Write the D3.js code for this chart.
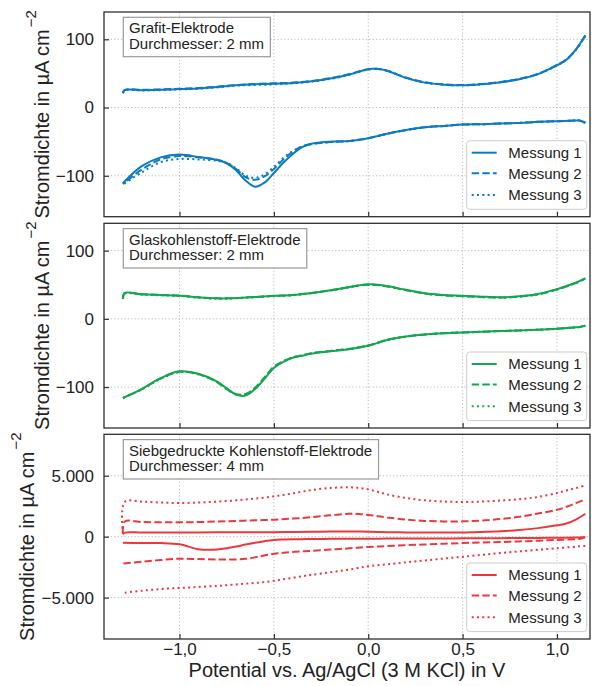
<!DOCTYPE html>
<html>
<head>
<meta charset="utf-8">
<script src="https://cdn.jsdelivr.net/npm/d3@7"></script>
<style>
  html, body { margin: 0; padding: 0; background: #fff; }
  svg { display: block; }
  text { font-family: "Liberation Sans", Arial, Helvetica, sans-serif; fill: #222; }
</style>
</head>
<body>
<svg id="chart" width="592" height="686"></svg>
<script>
// ---------------- DATA ----------------
// Potential grid (V vs. Ag/AgCl) for the anodic (forward) and cathodic (backward) scans
const upV = [-1.30, -1.29, -1.2, -1.1, -1.0, -0.9, -0.8, -0.7, -0.6, -0.5, -0.4, -0.3, -0.2, -0.1, -0.05,
  0.0, 0.05, 0.1, 0.2, 0.3, 0.4, 0.5, 0.6, 0.7, 0.8, 0.9, 1.0, 1.05, 1.1, 1.15];
const downV = [1.15, 1.12, 1.1, 1.0, 0.9, 0.8, 0.7, 0.6, 0.5, 0.4, 0.3, 0.2, 0.1, 0.0, -0.1, -0.2, -0.3,
  -0.35, -0.4, -0.45, -0.5, -0.55, -0.6, -0.65, -0.7, -0.75, -0.8, -0.9, -1.0, -1.1, -1.2, -1.3];

// Panel 1: Grafit-Elektrode (µA cm^-2)
const grafitUp1 = [21, 25.5, 25.5, 26, 27, 28, 30, 32.5, 34, 35, 36, 38.5, 42.5, 48.5, 52.5, 56, 57, 54, 43.5, 36.5,
  33.5, 32.5, 34, 37, 41.5, 49, 62, 70, 85, 106];
const grafitUp2 = [22, 26, 26, 26.5, 27.5, 28.5, 30.5, 33, 34.5, 35.5, 36.5, 39, 43, 49, 53, 56, 56.5, 54, 44, 37,
  34, 33, 34.5, 37.5, 42, 49.5, 62.5, 70.5, 85, 105];
const grafitUp3 = [21, 25, 25, 25.5, 26.5, 27.5, 29.5, 32, 33, 34, 35.5, 38, 42, 48, 52.5, 55.5, 56.5, 54, 43.5, 36.5,
  33.5, 32.5, 34, 37, 41.5, 49, 61.5, 70, 84, 105];
const grafitDown1 = [-23, -19, -19, -20, -21, -22.5, -23.5, -24.5, -25, -27, -29, -33, -38.5, -45, -49, -50, -53,
  -58, -68, -81, -96, -110, -116, -107, -92, -82, -77, -72.5, -69, -73, -86, -111];
const grafitDown2 = [-22, -19, -19, -20, -21, -22.5, -23.5, -24.5, -25, -27, -29, -33, -38.5, -45, -49, -50.5, -53.5,
  -57, -65, -76, -90, -101, -106, -102, -90, -81, -76.5, -73, -71, -76, -91, -112];
const grafitDown3 = [-22, -19, -19, -20, -21, -22.5, -23.5, -24.5, -25, -27, -29, -33, -38.5, -45, -49, -50.5, -53.5,
  -57, -64, -74, -87, -98, -103, -100, -89, -81, -78, -76, -75.5, -80, -95, -113];

// Panel 2: Glaskohlenstoff-Elektrode (µA cm^-2)
const glasUp1 = [29, 38, 36, 35, 34, 31.5, 30, 30.5, 32, 33.7, 35, 38, 42, 46.5, 49, 50.5, 50, 48, 42.5, 37.5,
  35, 33.7, 32.5, 31.7, 33, 36.5, 43.5, 48, 53, 59.5];
const glasUp2 = [30, 37.5, 36, 35, 34, 31.5, 30, 30.5, 32, 33.5, 35, 38, 42, 46.5, 49, 50, 49.5, 47.5, 42, 37,
  34.5, 33.2, 32, 31.2, 32.5, 36, 43, 47.5, 52.5, 59];
const glasUp3 = [29.5, 37, 35.5, 34.5, 33.5, 31, 29.5, 30, 31.5, 33.2, 34.5, 37.5, 41.5, 46, 48.5, 50, 49.5, 47.5, 42, 37,
  34.5, 33.2, 32, 31.2, 32.5, 36, 43, 47.5, 52.5, 59];
const glasDown1 = [-10, -12, -12.5, -14.5, -16, -17, -18, -19, -20, -21, -23, -26, -31, -39.5, -44.5, -47.5, -51,
  -54, -57, -63, -72, -88, -103, -112.5, -111, -102, -92, -80.5, -77, -87, -103, -116];
const glasDown2 = [-10, -12, -12.5, -14.5, -16, -17, -18, -19, -20, -21, -23, -26, -31, -39, -44, -47, -50.5,
  -53.5, -56.5, -62, -70, -86, -101, -110, -110.5, -103, -93, -81, -77.5, -87.5, -103, -116];
const glasDown3 = [-10, -12, -12.5, -14.5, -16, -17, -18, -19, -20, -21, -23, -26, -31, -39, -44, -47, -50.5,
  -53.5, -56.5, -62.5, -71, -87, -102, -111, -111, -102.5, -92.5, -81.5, -78, -88, -103.5, -116];

// Panel 3: Siebgedruckte Kohlenstoff-Elektrode (µA cm^-2)
const sdUp1 = [200, 330, 340, 345, 350, 350, 355, 360, 365, 370, 385, 400, 420, 430, 425, 410, 390, 370, 345, 335,
  335, 345, 380, 440, 540, 700, 930, 1080, 1400, 1880];
const sdUp2 = [250, 1250, 1200, 1180, 1175, 1200, 1240, 1290, 1340, 1393, 1480, 1600, 1760, 1870, 1860, 1780, 1680, 1580, 1400, 1290,
  1250, 1254, 1320, 1440, 1630, 1900, 2200, 2450, 2750, 3060];
const sdUp3 = [250, 2850, 2870, 2800, 2760, 2800, 2880, 2980, 3120, 3306, 3550, 3830, 4000, 4050, 4000, 3880, 3680, 3470, 3170, 2980,
  2880, 2842, 2880, 2960, 3070, 3260, 3580, 3790, 3990, 4200];
const sdDown1 = [-30, -60, -70, -90, -105, -115, -125, -135, -140, -145, -150, -155, -160, -165, -170, -180, -195,
  -205, -215, -235, -270, -370, -500, -650, -810, -950, -1050, -1030, -620, -530, -515, -510];
const sdDown2 = [-60, -190, -210, -270, -330, -390, -440, -480, -520, -580, -640, -700, -770, -847, -960, -1060, -1160,
  -1210, -1260, -1330, -1410, -1540, -1700, -1820, -1870, -1885, -1875, -1840, -1810, -1920, -2060, -2213];
const sdDown3 = [-760, -790, -820, -950, -1080, -1210, -1350, -1500, -1650, -1800, -1950, -2110, -2270, -2430, -2700, -2920, -3130,
  -3250, -3380, -3500, -3620, -3730, -3800, -3860, -3920, -3980, -4040, -4130, -4207, -4300, -4440, -4620];

// Labels / ticks
const seriesNames = ["Messung 1", "Messung 2", "Messung 3"];
const electrodeNames = ["Grafit-Elektrode", "Glaskohlenstoff-Elektrode", "Siebgedruckte Kohlenstoff-Elektrode"];
const diameterLabels = ["Durchmesser: 2 mm", "Durchmesser: 2 mm", "Durchmesser: 4 mm"];
const xTicks = [-1.0, -0.5, 0.0, 0.5, 1.0];
const xTickLabels = ["\u22121,0", "\u22120,5", "0,0", "0,5", "1,0"];
const yTicksSmall = [-100, 0, 100];
const yTickLabelsSmall = ["\u2212100", "0", "100"];
const yTicksLarge = [-5000, 0, 5000];
const yTickLabelsLarge = ["\u22125.000", "0", "5.000"];
const xLabel = "Potential vs. Ag/AgCl (3 M KCl) in V";
const yLabel = "Stromdichte in \u00B5A cm";
const yLabelSup = "\u22122";

// ---------------- LAYOUT / STYLE ----------------
const colors = ["#0c7bbf", "#14a650", "#ec383c"];
const dashes = [null, "7.4,3.2", "2,3.3"];
const L = 104, R = 590, panelH = 204.7;
const panelTops = [12, 223.3, 434.3];
const yLabelX = [49, 49, 34];
const yDomains = [[-160, 140], [-160, 140], [-8400, 8400]];

const panels = [
  { ticks: yTicksSmall, labels: yTickLabelsSmall,
    ups: [grafitUp1, grafitUp2, grafitUp3], downs: [grafitDown1, grafitDown2, grafitDown3] },
  { ticks: yTicksSmall, labels: yTickLabelsSmall,
    ups: [glasUp1, glasUp2, glasUp3], downs: [glasDown1, glasDown2, glasDown3] },
  { ticks: yTicksLarge, labels: yTickLabelsLarge,
    ups: [sdUp1, sdUp2, sdUp3], downs: [sdDown1, sdDown2, sdDown3] }
];

const svg = d3.select("#chart");
const x = d3.scaleLinear().domain([-1.40, 1.175]).range([L, R]);

panels.forEach((p, i) => {
  const top = panelTops[i], bottom = top + panelH;
  const y = d3.scaleLinear().domain(yDomains[i]).range([bottom, top]);
  const g = svg.append("g");
  const clipId = "clip" + i;
  svg.append("clipPath").attr("id", clipId).append("rect")
    .attr("x", L).attr("y", top).attr("width", R - L).attr("height", panelH);

  // grid
  const grid = g.append("g").attr("stroke", "#b3b3b3").attr("stroke-width", 0.9).attr("stroke-dasharray", "1.2,2.2");
  xTicks.forEach(t => grid.append("line").attr("x1", x(t)).attr("x2", x(t)).attr("y1", top).attr("y2", bottom));
  p.ticks.forEach(t => grid.append("line").attr("x1", L).attr("x2", R).attr("y1", y(t)).attr("y2", y(t)));

  // data lines
  const line = d3.line().x(d => x(d[0])).y(d => y(d[1])).curve(d3.curveCatmullRom.alpha(0.5));
  const lines = g.append("g").attr("clip-path", `url(#${clipId})`);
  [0, 1, 2].forEach(k => {
    [[upV, p.ups[k]], [downV, p.downs[k]]].forEach(([vx, vy]) => {
      const pts = vx.map((v, j) => [v, vy[j]]);
      lines.append("path").attr("d", line(pts))
        .attr("fill", "none").attr("stroke", colors[i]).attr("stroke-width", 2)
        .attr("stroke-dasharray", dashes[k]);
    });
  });

  // frame
  g.append("rect").attr("x", L).attr("y", top).attr("width", R - L).attr("height", panelH)
    .attr("fill", "none").attr("stroke", "#2e2e2e").attr("stroke-width", 1.3);

  // axes: ticks inward
  const yAxis = d3.axisLeft(y).tickValues(p.ticks).tickFormat((d, j) => p.labels[j])
    .tickSizeInner(-5).tickSizeOuter(0).tickPadding(10);
  const ya = g.append("g").attr("transform", `translate(${L},0)`).call(yAxis);
  ya.select(".domain").remove();
  ya.selectAll("line").attr("stroke", "#2e2e2e").attr("stroke-width", 1.2);
  ya.selectAll("text").attr("font-size", 17).attr("fill", "#222")
    .attr("font-family", '"Liberation Sans", Arial, sans-serif');

  const xAxis = d3.axisBottom(x).tickValues(xTicks).tickFormat((d, j) => i === 2 ? xTickLabels[j] : "")
    .tickSizeInner(-5).tickSizeOuter(0).tickPadding(10);
  const xa = g.append("g").attr("transform", `translate(0,${bottom})`).call(xAxis);
  xa.select(".domain").remove();
  xa.selectAll("line").attr("stroke", "#2e2e2e").attr("stroke-width", 1.2);
  xa.selectAll("text").attr("font-size", 17).attr("fill", "#222")
    .attr("font-family", '"Liberation Sans", Arial, sans-serif')
    .attr("dy", null).attr("y", 16);

  // annotation box
  const ann = g.append("g");
  const annRect = ann.append("rect");
  const t1 = ann.append("text").attr("x", L + 25).attr("y", top + 21.3).attr("font-size", 15).text(electrodeNames[i]);
  const t2 = ann.append("text").attr("x", L + 25).attr("y", top + 37).attr("font-size", 15).text(diameterLabels[i]);
  const tw = Math.max(t1.node().getComputedTextLength(), t2.node().getComputedTextLength());
  annRect.attr("x", L + 19.3).attr("y", top + 5.3).attr("width", tw + 12).attr("height", 39.4)
    .attr("fill", "#fff").attr("stroke", "#9a9a9a").attr("stroke-width", 1.2);

  // legend
  const lg = g.append("g");
  lg.append("rect").attr("x", R - 123.3).attr("y", bottom - 76).attr("width", 120).attr("height", 68.6)
    .attr("rx", 3).attr("fill", "#fff").attr("fill-opacity", 0.85).attr("stroke", "#cccccc").attr("stroke-width", 1);
  const offs = [-64, -43.4, -21.7];
  seriesNames.forEach((name, k) => {
    const yy = bottom + offs[k];
    lg.append("line").attr("x1", R - 118.3).attr("x2", R - 93.3).attr("y1", yy).attr("y2", yy)
      .attr("stroke", colors[i]).attr("stroke-width", 2).attr("stroke-dasharray", dashes[k]);
    lg.append("text").attr("x", R - 81.7).attr("y", yy).attr("dy", "0.36em").attr("font-size", 15).text(name);
  });

  // y label
  const yl = svg.append("text").attr("transform", `translate(${yLabelX[i]},${top + panelH / 2}) rotate(-90)`)
    .attr("text-anchor", "middle").attr("font-size", 20);
  yl.append("tspan").text(yLabel);
  yl.append("tspan").attr("font-size", 15).attr("dx", 2).attr("dy", -13).text(yLabelSup);
});

// x label
svg.append("text").attr("x", (L + R) / 2).attr("y", 677).attr("text-anchor", "middle")
  .attr("font-size", 20).text(xLabel);
</script>
</body>
</html>
